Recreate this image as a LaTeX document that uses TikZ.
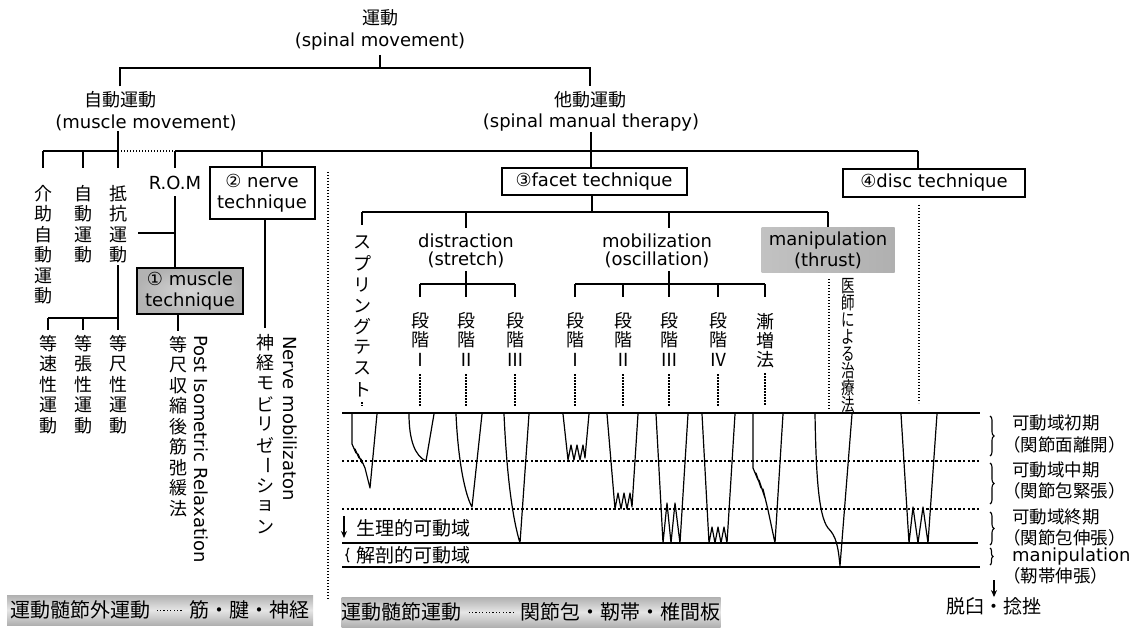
\documentclass[tikz,border=0pt]{standalone}
\usepackage{fontspec}
\usepackage{graphicx}
\setmainfont{DejaVu Sans}
\newfontfamily\jp{Noto Sans CJK JP}
\usetikzlibrary{arrows.meta,decorations.pathreplacing,calc}
\makeatletter
\newdimen\vjppitch \vjppitch=20.5pt
\def\vjp#1{\vbox{\offinterlineskip\vjp@#1\@nil}}
\def\vjp@#1{\ifx#1\@nil\else\vbox to\vjppitch{\vss\hbox to 1.1em{\hss#1\hss}\vss}\expandafter\vjp@\fi}
\makeatother
\newcommand\chou{\rotatebox[origin=c]{-90}{ー}}
\newcommand\dleader[1]{\makebox[#1]{\leaders\hbox to 3.4pt{\hss\raisebox{0.32em}{\rule{1.2pt}{1.2pt}}\hss}\hfill}}
\begin{document}
\begin{tikzpicture}[x=1pt,y=-1pt,
  lat/.style={font=\fontsize{18}{21}\selectfont, inner sep=0pt},
  jpn/.style={font=\jp\fontsize{18}{21}\selectfont, inner sep=0pt},
  vt/.style={font=\jp\fontsize{18}{21}\selectfont, inner sep=0pt, anchor=north},
  tbox/.style={draw, line width=2pt, fill=white, inner sep=0pt, align=center, font=\fontsize{18}{21}\selectfont},
  ln/.style={line width=1.3pt},
  dl/.style={line width=1.2pt, dash pattern=on 1.4pt off 1.6pt},
  gdl/.style={line width=1.2pt, dash pattern=on 2.4pt off 2.2pt},
  crv/.style={line width=1.2pt, line join=round},
  rng/.style={font=\jp\fontsize{17.5}{20}\selectfont, inner sep=0pt, anchor=west},
  brc/.style={decorate, decoration={brace, amplitude=4pt}, line width=1.1pt},
  arr/.style={line width=1.3pt, -{Stealth[length=7pt,width=6pt]}},
  band/.style={top color=gray!62, bottom color=gray!62, middle color=gray!20, draw=none, inner sep=0pt, font=\jp\fontsize{20}{22}\selectfont},
]
\useasboundingbox (0,0) rectangle (1138,631);
\fill[white] (0,0) rectangle (1138,631);

% ---- top level
\node[jpn] (mov) at (380,18) {運動};
\node[lat] (movE) at (380,42) {(spinal movement)};
\node[jpn, inner sep=5pt] (auto) at (120,100) {自動運動};
\node[lat] (autoE) at (146,123) {(muscle movement)};
\node[jpn, inner sep=5pt] (pass) at (590,100) {他動運動};
\node[lat] (passE) at (591,123) {(spinal manual therapy)};
\coordinate (busA) at (380,68);
\draw[ln] ($(movE.south)+(0,4)$) -- (busA);
\draw[ln] (auto.north) |- (busA) -| (pass.north);

% ---- level 2 bus
\coordinate (b1) at (118,151);
\coordinate (b1e) at (918,151);
\draw[ln] (autoE.south -| b1) -- (b1);

\node[vt] (kaij) at (43,183) {\vjp{介助自動運動}};
\node[vt] (jido) at (83,183) {\vjp{自動運動}};
\node[vt] (teik) at (118,183) {\vjp{抵抗運動}};
\node[lat] (rom) at (175,183) {R.O.M};
\node[tbox, minimum width=105pt, minimum height=52pt] (nerve) at (262,193) {② nerve\\technique};
\node[tbox, minimum width=106pt, minimum height=46pt, inner color=gray!32, outer color=gray!60] (muscle) at (190,291) {① muscle\\technique};

\draw[ln] (kaij.north |- b1) -- (b1);
\draw[dl] (b1) -- (rom.north |- b1);
\draw[ln] (rom.north |- b1) -- (b1e);
\foreach \n in {kaij,jido,teik,rom} \draw[ln] (\n.north |- b1) -- ++(0,17);
\draw[ln] (nerve.north |- b1) -- (nerve.north);

% R.O.M -> muscle technique
\draw[ln] ($(rom.south)+(0,6)$) -- (rom.south |- muscle.north);
\coordinate (j1) at (175,233);
\draw[ln] (j1) -- ++(-37,0);

% resistance -> isometric etc.
\coordinate (b2) at (118,318);
\node[vt] (tsok) at (48,333) {\vjp{等速性運動}};
\node[vt] (tcho) at (83,333) {\vjp{等張性運動}};
\node[vt] (tsek) at (118,333) {\vjp{等尺性運動}};
\draw[ln] (teik.south) -- (b2) -- (tsok.north |- b2);
\foreach \n in {tsok,tcho,tsek} \draw[ln] (\n.north |- b2) -- ++(0,12);

% muscle technique -> PIR
\node[vt] (pir) at (178,334) {\vjp{等尺収縮後筋弛緩法}};
\draw[ln] (muscle.south -| pir.north) -- ++(0,16);
\node[lat, rotate=-90, anchor=west] (pirE) at (201,335) {Post Isometric Relaxation};

% nerve technique -> mobilization
\node[vt] (shk) at (265,332) {\vjp{神経モビリゼ\chou ション}};
\draw[ln] (nerve.south -| shk.north) -- ($(shk.north)+(0,-4)$);
\node[lat, rotate=-90, anchor=west] (shkE) at (290,336) {Nerve mobilizaton};

% separator
\coordinate (s1) at (328,172);
\coordinate (s2) at (328,600);
\draw[dl] (s1) -- (s2);

% ---- right part
\node[tbox, minimum width=185pt, minimum height=27pt] (facet) at (594,182) {③facet technique};
\node[tbox, minimum width=182pt, minimum height=28pt] (disc) at (934,183) {④disc technique};
\draw[ln] (passE.south) -- (passE.south |- facet.north);
\draw[ln] (b1e) -- (b1e |- disc.north);

\coordinate (b3) at (592,212);
\coordinate (dotEnd) at (0,406);
\draw[ln] (facet.south -| b3) -- (b3);

\node[vt] (spr) at (362,232) {\vjppitch=21pt\vjp{スプリングテスト}};
\node[lat] (dist) at (466,241) {distraction};
\node[lat] (distE) at (466,260) {(stretch)};
\node[lat] (mob) at (657,241) {mobilization};
\node[lat] (mobE) at (657,260) {(oscillation)};
\node[draw=none, minimum width=133pt, minimum height=45pt, left color=gray!48, right color=gray!62, align=center, font=\fontsize{18}{21}\selectfont, inner sep=0pt] (manip) at (828,250) {manipulation\\(thrust)};
\coordinate (mobd) at (669,212);

\draw[ln] (spr.north |- b3) -- (manip.north |- b3);
\draw[ln] (spr.north |- b3) -- ++(0,13);
\draw[ln] (dist.north |- b3) -- ++(0,16);
\draw[ln] (mobd) -- ++(0,16);
\draw[ln] (manip.north |- b3) -- (manip.north);

% distraction stages
\coordinate (b4) at (466,284);
\draw[ln] ($(distE.south)+(0,3)$) -- (b4);
\node[vt] (d1) at (420,310) {\vjppitch=20pt\vjp{段階Ⅰ}};
\node[vt] (d2) at (466,310) {\vjppitch=20pt\vjp{段階Ⅱ}};
\node[vt] (d3) at (515,310) {\vjppitch=20pt\vjp{段階Ⅲ}};
\draw[ln] (d1.north |- b4) -- (d3.north |- b4);
\foreach \n in {d1,d2,d3} {
  \draw[ln] (\n.north |- b4) -- ++(0,13);
  \draw[dl] ($(\n.south)+(0,4)$) -- (\n.south |- dotEnd);
}

% mobilization stages
\coordinate (b5) at (669,284);
\draw[ln] ($(mobE.south -| b5)+(0,3)$) -- (b5);
\node[vt] (m1) at (575,310) {\vjppitch=20pt\vjp{段階Ⅰ}};
\node[vt] (m2) at (623,310) {\vjppitch=20pt\vjp{段階Ⅱ}};
\node[vt] (m3) at (669,310) {\vjppitch=20pt\vjp{段階Ⅲ}};
\node[vt] (m4) at (718,310) {\vjppitch=20pt\vjp{段階Ⅳ}};
\node[vt] (zen) at (765,312) {\vjppitch=19pt\vjp{漸増法}};
\draw[ln] (m1.north |- b5) -- (zen.north |- b5);
\foreach \n in {m1,m2,m3,m4,zen} {
  \draw[ln] (\n.north |- b5) -- ++(0,13);
  \draw[dl] ($(\n.south)+(0,4)$) -- (\n.south |- dotEnd);
}
\draw[dl] ($(spr.south)+(0,2)$) -- (spr.south |- dotEnd);

% manipulation -> doctor
\coordinate (mpd) at (829,279);
\draw[dl] (mpd) -- (mpd |- 0,410);
\node[vt, font=\jp\fontsize{18}{20}\selectfont] (doc) at (848,277) {\scalebox{0.75}[1]{\vjppitch=17pt\vjp{医師による治療法}}};

% disc dotted
\coordinate (dd) at (919,205);
\draw[dl] (dd) -- (dd |- 0,403);

% ---- graph
\draw[line width=2.4pt] (342,413) -- (980,413);
\draw[gdl] (342,461) -- (980,461);
\draw[gdl] (342,509) -- (980,509);
\draw[line width=1.4pt] (342,543) -- (978,543);
\draw[line width=2.4pt] (342,567) -- (980,567);

% curves
\draw[crv] (352,414) -- (352,444) -- (356,453) -- (355,449) -- (359,458) -- (358,454) -- (362,463) -- (361,459) -- (365,468) -- (370,488) -- (377,414);
\draw[crv] (409,414) .. controls (409,440) and (415,456) .. (426,461) -- (434,414);
\draw[crv] (456,414) .. controls (458,460) and (465,495) .. (472,507) -- (482,414);
\draw[crv] (504,414) .. controls (507,480) and (513,520) .. (520,543) -- (529,414);
\draw[crv] (563,414) -- (568,460) -- (571,445) -- (574,460) -- (577,445) -- (580,460) -- (583,445) -- (585,458) -- (589,414);
\draw[crv] (607,414) -- (615,509) -- (618,493) -- (621,509) -- (624,493) -- (627,509) -- (630,493) -- (632,507) -- (638,414);
\draw[crv] (656,414) -- (663,543) -- (667,503) -- (671,543) -- (675,503) -- (680,543) -- (688,414);
\draw[crv] (702,414) -- (709,543) -- (712,527) -- (715,543) -- (718,527) -- (721,543) -- (724,527) -- (727,543) -- (735,414);
\draw[crv] (753,414) -- (753,468) -- (758,480) -- (756,473) -- (761,488) -- (759,480) -- (765,498) -- (763,489) -- (768,510) -- (775,543) -- (783,414);
\draw[crv] (815,414) .. controls (816,470) and (818,515) .. (828,528) .. controls (836,536) and (838,545) .. (840,566) -- (852,414);
\draw[crv] (901,414) -- (909,543) -- (913,507) -- (918,543) -- (923,507) -- (928,543) -- (937,414);

% left labels in graph
\coordinate (pa) at (344,516);
\node[rng, font=\jp\fontsize{19}{21}\selectfont] (phys) at (356,528) {生理的可動域};
\draw[arr] (pa) -- (pa |- 0,538);
\draw[brc, decoration={brace, amplitude=3pt}] (349,562) -- (349,548);
\node[rng, font=\jp\fontsize{19}{21}\selectfont] (anat) at (356,555) {解剖的可動域};

% right labels
\draw[brc] (990,416) -- (990,456);
\draw[brc] (990,463) -- (990,504);
\draw[brc] (990,512) -- (990,545);
\draw[brc, decoration={brace, amplitude=3pt}] (990,548) -- (990,565);
\node[rng] (r1) at (1012,423) {可動域初期};
\node[rng] (r1b) at (1003,445) {（関節面離開）};
\node[rng] (r2) at (1012,470) {可動域中期};
\node[rng] (r2b) at (1003,491) {（関節包緊張）};
\node[rng] (r3) at (1012,517) {可動域終期};
\node[rng] (r3b) at (1003,538) {（関節包伸張）};
\node[lat, anchor=west] (r4) at (1012,557) {manipulation};
\node[rng] (r4b) at (1003,576) {（靭帯伸張）};
\node[jpn, font=\jp\fontsize{19}{21}\selectfont] (dis) at (994,606) {脱臼・捻挫};
\draw[arr] (994,580) -- (dis.north);

% ---- bottom bands
\node[band, minimum width=306pt, minimum height=30pt] (ban1) at (160,610) {運動髄節外運動\hspace{5pt}\dleader{28pt}\hspace{6pt}筋・腱・神経};
\node[band, minimum width=378pt, minimum height=30pt] (ban2) at (531,612) {運動髄節運動\hspace{6pt}\dleader{48pt}\hspace{5pt}関節包・靭帯・椎間板};
\end{tikzpicture}
\end{document}
